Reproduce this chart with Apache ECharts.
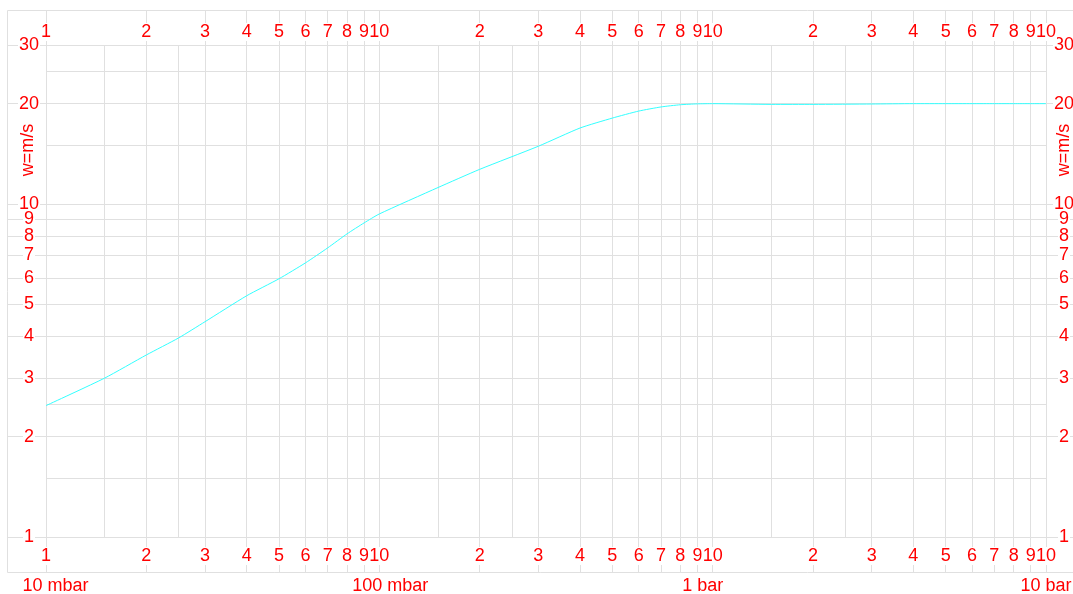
<!DOCTYPE html>
<html>
<head>
<meta charset="utf-8">
<script src="https://cdn.jsdelivr.net/npm/echarts@6/dist/echarts.min.js"></script>
<style>html,body{margin:0;padding:0;background:#fff;overflow:hidden}#c{width:1073px;height:594px}</style>
</head>
<body>
<div id="c"></div>
<script>
// Data (pressure in bar, velocity w in m/s)
var pressure = [0.01, 0.015, 0.02, 0.025, 0.03, 0.04, 0.05, 0.06, 0.07, 0.08, 0.09, 0.1,
                0.15, 0.2, 0.3, 0.4, 0.5, 0.6, 0.7, 0.8, 0.9, 1,
                1.5, 2, 3, 4, 5, 6, 7, 8, 9, 10];
var velocity = [2.48, 3.0, 3.52, 3.96, 4.43, 5.3, 5.96, 6.65, 7.38, 8.13, 8.77, 9.33,
                11.2, 12.7, 14.9, 16.9, 18.1, 19.0, 19.55, 19.85, 19.97, 20.0,
                19.9, 19.9, 19.95, 20, 20, 20, 20, 20, 20, 20];

// Tick values and labels
var xTickValues = [0.01,0.02,0.03,0.04,0.05,0.06,0.07,0.08,0.09,0.1,
                   0.2,0.3,0.4,0.5,0.6,0.7,0.8,0.9,1,
                   2,3,4,5,6,7,8,9,10];
var xTickLabels = ['1','2','3','4','5','6','7','8','9','10',
                   '2','3','4','5','6','7','8','9','10',
                   '2','3','4','5','6','7','8','9','10'];
var xMinorGrid = [0.015, 0.025, 0.15, 0.25, 1.5, 2.5];
var xUnitValues = [0.01, 0.1, 1, 10];
var xUnitLabels = ['10 mbar', '100 mbar', '1 bar', '10 bar'];
var yTickValues = [1,2,3,4,5,6,7,8,9,10,20,30];
var yTickLabels = ['1','2','3','4','5','6','7','8','9','10','20','30'];
var yMinorGrid = [1.5, 2.5, 15, 25];
var yName = 'w=m/s';

var FONT = 'Liberation Sans, Arial, sans-serif';
var RED = '#ff0000';
var GRIDC = '#e0e0e0';

function lookup(vals, labels) {
  return function (v) {
    for (var i = 0; i < vals.length; i++) {
      if (Math.abs(Math.log10(v) - Math.log10(vals[i])) < 1e-6) return labels[i];
    }
    return '';
  };
}
var xFmt = lookup(xTickValues, xTickLabels);
var yFmt = lookup(yTickValues, yTickLabels);
var unitFmt = function (v) {
  for (var i = 0; i < xUnitValues.length; i++) {
    if (Math.abs(Math.log10(v) - Math.log10(xUnitValues[i])) < 1e-6) return '{u' + i + '|' + xUnitLabels[i] + '}';
  }
  return '';
};

// the last tick is drawn by its own axis so that the crowded "9 10" pair is not thinned out
var xMainTicks = xTickValues.slice(0, -1);
var xEndTick = xTickValues.slice(-1);

var labelBase = {color: RED, fontSize: 18, fontFamily: FONT, backgroundColor: '#fff', padding: [0, 1],
                 hideOverlap: false, showMinLabel: true, showMaxLabel: true};
var yLabelBase = {color: RED, fontSize: 18, fontFamily: FONT, backgroundColor: '#fff', padding: [0, 1], lineHeight: 14,
                  hideOverlap: false, showMinLabel: true, showMaxLabel: true};

function tickAxis(pos, ticks, margin, split) {
  return {type: 'log', logBase: 10, min: 0.01, max: 10, position: pos,
    axisLine: {show: false},
    axisTick: {show: true, customValues: ticks, length: 35, lineStyle: {color: GRIDC}},
    axisLabel: Object.assign({customValues: ticks, formatter: xFmt, margin: margin}, labelBase),
    splitLine: {show: split, lineStyle: {color: GRIDC}}};
}

var chart = echarts.init(document.getElementById('c'));
chart.setOption({
  animation: false,
  backgroundColor: '#fff',
  grid: {left: 46, top: 45, width: 1000, height: 492, containLabel: false, outerBoundsMode: 'none'},
  graphic: [
    {type: 'rect', z: -10, silent: true, shape: {x: 7.5, y: 10.5, width: 1075, height: 562},
     style: {fill: null, stroke: GRIDC, lineWidth: 1}},
    {type: 'text', x: 28, y: 150, rotation: Math.PI / 2,
     style: {text: yName, fill: RED, font: '18px ' + FONT, align: 'center', verticalAlign: 'middle'}},
    {type: 'text', x: 1064, y: 150, rotation: Math.PI / 2,
     style: {text: yName, fill: RED, font: '18px ' + FONT, align: 'center', verticalAlign: 'middle'}}
  ],
  xAxis: [
    tickAxis('bottom', xMainTicks, 10, true),
    tickAxis('top', xMainTicks, 4, false),
    {type: 'log', logBase: 10, min: 0.01, max: 10, position: 'bottom', offset: 35,
     axisLine: {show: false},
     axisTick: {show: false, customValues: xUnitValues},
     axisLabel: {customValues: xUnitValues, formatter: unitFmt, margin: 5, showMinLabel: true, showMaxLabel: true,
                 color: RED, fontSize: 18, fontFamily: FONT,
                 rich: {u0: {color: RED, fontSize: 18, fontFamily: FONT, padding: [0, 0, 0, 19]},
                        u1: {color: RED, fontSize: 18, fontFamily: FONT, padding: [0, 0, 0, 22]},
                        u2: {color: RED, fontSize: 18, fontFamily: FONT, padding: [0, 20, 0, 0]},
                        u3: {color: RED, fontSize: 18, fontFamily: FONT}}},
     splitLine: {show: false}},
    {type: 'log', logBase: 10, min: 0.01, max: 10, position: 'bottom',
     axisLine: {show: false},
     axisTick: {show: false, customValues: xMinorGrid},
     axisLabel: {show: false, customValues: xMinorGrid},
     splitLine: {show: true, lineStyle: {color: GRIDC}}},
    tickAxis('bottom', xEndTick, 10, true),
    tickAxis('top', xEndTick, 4, false)
  ],
  yAxis: [
    {type: 'log', logBase: 10, min: 1, max: 30, position: 'left',
     axisLine: {show: false},
     axisTick: {show: true, customValues: yTickValues, length: 39, lineStyle: {color: GRIDC}},
     axisLabel: Object.assign({customValues: yTickValues, formatter: yFmt, margin: 17, align: 'center'}, yLabelBase),
     splitLine: {show: true, lineStyle: {color: GRIDC}}},
    {type: 'log', logBase: 10, min: 1, max: 30, position: 'right',
     axisLine: {show: false},
     axisTick: {show: true, customValues: yTickValues, length: 30, lineStyle: {color: GRIDC}},
     axisLabel: Object.assign({customValues: yTickValues, formatter: yFmt, margin: 18, align: 'center'}, yLabelBase),
     splitLine: {show: false}},
    {type: 'log', logBase: 10, min: 1, max: 30, position: 'left',
     axisLine: {show: false},
     axisTick: {show: false, customValues: yMinorGrid},
     axisLabel: {show: false, customValues: yMinorGrid},
     splitLine: {show: true, lineStyle: {color: GRIDC}}}
  ],
  series: [{
    type: 'line', xAxisIndex: 0, yAxisIndex: 0, symbol: 'none', smooth: 0.2,
    lineStyle: {color: '#33ffff', width: 1},
    data: pressure.map(function (p, i) { return [p, velocity[i]]; })
  }]
});
</script>
</body>
</html>
